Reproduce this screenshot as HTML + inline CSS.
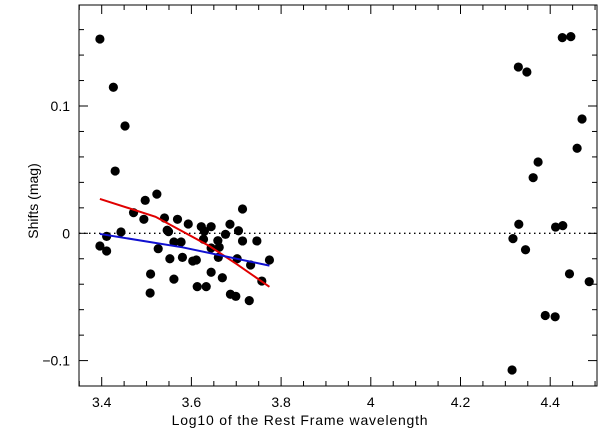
<!DOCTYPE html>
<html><head><meta charset="utf-8"><style>
html,body{margin:0;padding:0;background:#fff;width:600px;height:431px;overflow:hidden}
text{font-family:"Liberation Sans",sans-serif;font-size:14px;fill:#000}
</style></head><body>
<svg id="chart" width="600" height="431" xmlns="http://www.w3.org/2000/svg">
<g id="axes"></g><g id="marks"></g>
</svg>
<script>
const xTicks=[3.4,3.6,3.8,4,4.2,4.4];
const xTickLabels=["3.4","3.6","3.8","4","4.2","4.4"];
const yTicks=[-0.1,0,0.1];
const yTickLabels=["\u22120.1","0","0.1"];
const ptX=[3.396,3.426,3.452,3.430,3.497,3.523,3.471,3.494,3.443,3.411,3.396,3.411,3.540,3.569,3.593,3.622,3.644,3.686,3.714,3.705,3.546,3.549,3.629,3.676,3.627,3.561,3.577,3.659,3.714,3.746,3.526,3.644,3.662,3.552,3.580,3.603,3.611,3.660,3.702,3.774,3.732,3.644,3.509,3.561,3.669,3.757,3.613,3.633,3.508,3.687,3.699,3.729,
4.427,4.446,4.329,4.348,4.471,4.460,4.373,4.362,4.330,4.317,4.345,4.412,4.428,4.443,4.487,4.389,4.411,4.315];
const ptY=[0.1526,0.1147,0.0843,0.0489,0.0259,0.0308,0.0162,0.0110,0.0010,-0.0024,-0.0100,-0.0139,0.0120,0.0110,0.0073,0.0052,0.0052,0.0071,0.0191,0.0020,0.0024,0.0013,0.0016,-0.0008,-0.0047,-0.0068,-0.0068,-0.0058,-0.0060,-0.0060,-0.0121,-0.0115,-0.0110,-0.0200,-0.0189,-0.0218,-0.0210,-0.0189,-0.0200,-0.0210,-0.0249,-0.0306,-0.0320,-0.0360,-0.0349,-0.0375,-0.0419,-0.0419,-0.0469,-0.0479,-0.0495,-0.0529,
0.1537,0.1545,0.1306,0.1267,0.0898,0.0668,0.0560,0.0437,0.0071,-0.0042,-0.0129,0.0049,0.0060,-0.0319,-0.0380,-0.0646,-0.0656,-0.1074];
const redX=[3.396,3.52,3.64,3.70,3.774];
const redY=[0.027,0.013,-0.010,-0.024,-0.042];
const blueX=[3.396,3.58,3.774];
const blueY=[-0.0005,-0.011,-0.0254];

const L=79,R=597,T=5,B=386;
function sx(v){return 101.7+(v-3.4)*448.5;}
function sy(v){return 233.3-v*1273;}
const NS="http://www.w3.org/2000/svg";
function mk(tag,attrs,parent){const e=document.createElementNS(NS,tag);for(const k in attrs)e.setAttribute(k,attrs[k]);parent.appendChild(e);return e;}
const axes=document.getElementById('axes'),marks=document.getElementById('marks');
const frame=mk('rect',{x:L,y:T,width:R-L,height:B-T,fill:'none',stroke:'#000','stroke-width':1},axes);


for(let i=0;i<=58;i++){const v=3.35+i*0.05; if(v>4.505)break; const px=sx(v); if(px<L||px>R)continue;
 const major=Math.abs(Math.round(v*5)-v*5)<1e-6; const len=major?9:5;
 const t1=mk('line',{x1:px,x2:px,y1:B,y2:B-len,stroke:'#000'},axes);
 
 
 const t2=mk('line',{x1:px,x2:px,y1:T,y2:T+len,stroke:'#000'},axes);
 
 }
xTicks.forEach((v,i)=>{const t=mk('text',{x:sx(v),y:407,'text-anchor':'middle'},axes);t.textContent=xTickLabels[i];
 
 });
for(let i=-7;i<=8;i++){const v=i*0.02; const py=sy(v); if(py<T||py>B)continue;
 const major=(i%5===0); const len=major?9:5;
 const t1=mk('line',{x1:L,x2:L+len,y1:py,y2:py,stroke:'#000'},axes);
 
 
 const t2=mk('line',{x1:R,x2:R-len,y1:py,y2:py,stroke:'#000'},axes);
 
 }
yTicks.forEach((v,i)=>{const t=mk('text',{x:70,y:sy(v)+5,'text-anchor':'end'},axes);t.textContent=yTickLabels[i];
 
 });
const xt=mk('text',{x:300,y:425,'text-anchor':'middle','font-size':'16','font-family':'Liberation Mono, monospace','letter-spacing':'0.8'},axes);xt.textContent='Log10 of the Rest Frame wavelength';


const yt=mk('text',{x:0,y:0,'text-anchor':'middle','font-size':'15','font-family':'Liberation Mono, monospace',transform:'translate(38,201) rotate(-90)'},axes);yt.textContent='Shifts (mag)';


const zl=mk('line',{x1:L,x2:R,y1:sy(0),y2:sy(0),stroke:'#000','stroke-dasharray':'1.5,3.5','stroke-width':1.3},marks);


function poly(xs,ys,col,name){const d=xs.map((v,i)=>sx(v)+','+sy(ys[i])).join(' ');
 const p=mk('polyline',{points:d,fill:'none',stroke:col,'stroke-width':2},marks);
 
 }
ptX.forEach((v,i)=>{const c=mk('circle',{cx:sx(v),cy:sy(ptY[i]),r:4.6,fill:'#000'},marks);
 
 });
poly(redX,redY,'#e00000','red-fit-line');
poly(blueX,blueY,'#1010d0','blue-fit-line');
</script>
</body></html>
